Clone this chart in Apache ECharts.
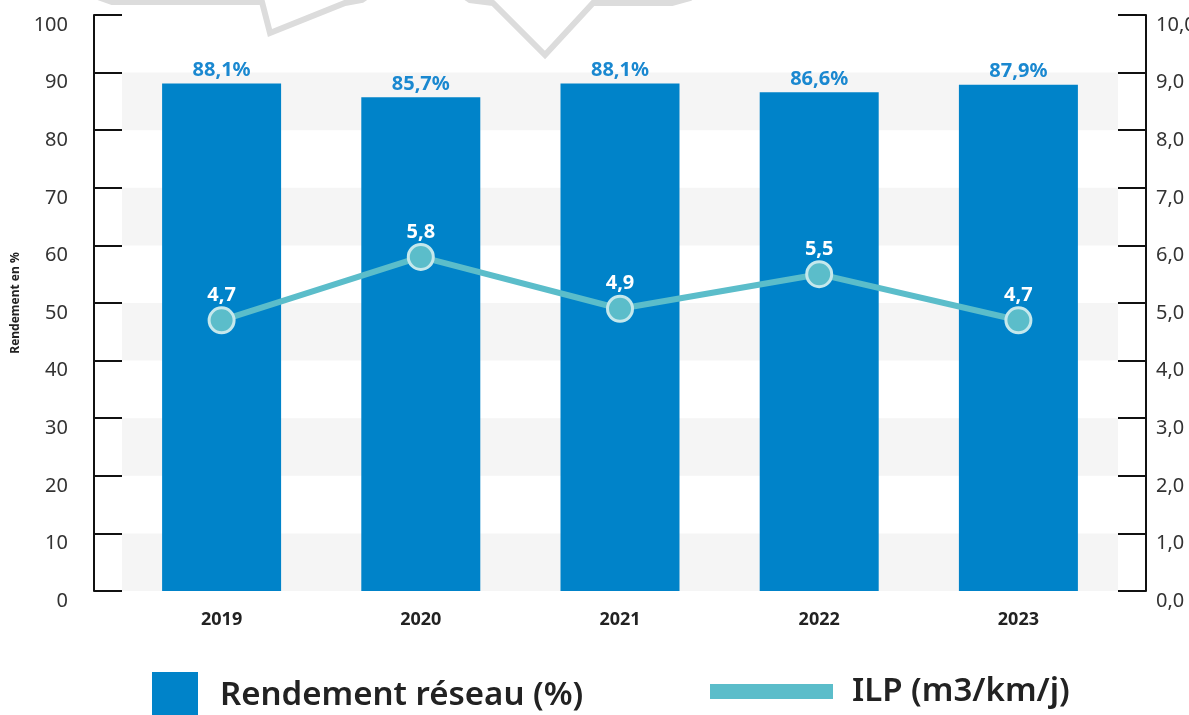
<!DOCTYPE html>
<html>
<head>
    <meta charset="utf-8">
    <title>Rendement réseau et ILP</title>
    <script src="https://cdn.jsdelivr.net/npm/echarts@6/dist/echarts.min.js"></script>
    <style>
        html, body { margin: 0; padding: 0; background: #fff; }
    </style>
</head>
<body>
    <div id="chart" style="width: 1189px;height:715px;"></div>
    <script type="text/javascript">
        // données
        var annees = ['2019', '2020', '2021', '2022', '2023'];
        var rendement = [88.1, 85.7, 88.1, 86.6, 87.9];
        var ilp = [4.7, 5.8, 4.9, 5.5, 4.7];
        var nomRendement = 'Rendement réseau (%)';
        var nomIlp = 'ILP (m3/km/j)';

        var virgule = function (v, d) { return v.toFixed(d).replace('.', ','); };
        var police = '"Noto Sans", "Open Sans", sans-serif';

        var option = {
            animation: false,
            textStyle: { fontFamily: police },
            grid: { left: 122, right: 71, top: 15, bottom: 124, outerBoundsMode: 'none', containLabel: false },
            // bulles décoratives en haut (morceau de l'infographie)
            graphic: [
                {
                    type: 'polyline', z: 100,
                    shape: { points: [[88, -14], [98, -3], [112, 2], [262, 2], [270, 33], [345, 3], [362, 0], [376, -10]] },
                    style: { stroke: '#dcdcdc', lineWidth: 6, fill: null }
                },
                {
                    type: 'polyline', z: 100,
                    shape: { points: [[455, -10], [470, 0], [493, 3], [545, 55], [593, 3], [672, 3], [690, -2], [702, -12]] },
                    style: { stroke: '#dcdcdc', lineWidth: 6, fill: null }
                }
            ],
            legend: [
                {
                    data: [nomRendement],
                    left: 152, top: 672, padding: 0,
                    icon: 'rect', itemWidth: 46, itemHeight: 48,
                    textStyle: { fontSize: 33, fontWeight: 600, color: '#222', fontFamily: police, padding: [0, 0, 0, 17] }
                },
                {
                    data: [nomIlp],
                    left: 710, top: 675, padding: 0,
                    icon: 'rect', itemWidth: 123, itemHeight: 15,
                    itemStyle: { borderWidth: 0 },
                    textStyle: { fontSize: 33, fontWeight: 600, color: '#222', fontFamily: police, padding: [0, 0, 0, 14] }
                }
            ],
            xAxis: {
                type: 'category',
                data: annees,
                axisLine: { show: false },
                axisTick: { show: false },
                axisLabel: { margin: 20, fontSize: 18, fontWeight: 'bold', color: '#222' }
            },
            yAxis: [
                {
                    type: 'value', min: 0, max: 100, interval: 10,
                    offset: 28,
                    name: 'Rendement en %', nameLocation: 'middle', nameRotate: 90, nameGap: 72,
                    nameTextStyle: { fontSize: 12, fontWeight: 'bold', color: '#222' },
                    axisLine: { show: true, lineStyle: { color: '#111', width: 2 } },
                    axisTick: { show: true, inside: true, length: 28, lineStyle: { color: '#111', width: 2 } },
                    axisLabel: { margin: 26, fontSize: 20, color: '#333', verticalAlign: 'top' },
                    splitLine: { show: false },
                    splitArea: { show: true, areaStyle: { color: ['#f5f5f5', 'rgba(255,255,255,0)'] } }
                },
                {
                    type: 'value', min: 0, max: 10, interval: 1,
                    offset: 28,
                    axisLine: { show: true, lineStyle: { color: '#111', width: 2 } },
                    axisTick: { show: true, inside: true, length: 28, lineStyle: { color: '#111', width: 2 } },
                    axisLabel: {
                        margin: 10, fontSize: 20, color: '#333', verticalAlign: 'top',
                        formatter: function (v) { return virgule(v, 1); }
                    },
                    splitLine: { show: false }
                }
            ],
            series: [
                {
                    name: nomRendement,
                    type: 'bar',
                    data: rendement,
                    barWidth: 119,
                    itemStyle: { color: '#0083c9' },
                    label: {
                        show: true, position: 'top', distance: 3,
                        fontSize: 20, fontWeight: 'bold', color: '#1a88d0',
                        formatter: function (p) { return virgule(p.value, 1) + '%'; }
                    }
                },
                {
                    name: nomIlp,
                    type: 'line',
                    yAxisIndex: 1,
                    data: ilp,
                    symbol: 'circle',
                    symbolSize: 25,
                    lineStyle: { color: '#5bbdca', width: 6 },
                    itemStyle: { color: '#5bbdca', borderColor: '#c5e8ec', borderWidth: 3 },
                    label: {
                        show: true, position: 'top', distance: 1,
                        fontSize: 20, fontWeight: 'bold', color: '#ffffff',
                        formatter: function (p) { return virgule(p.value, 1); }
                    },
                    z: 5
                }
            ]
        };

        var chart = echarts.init(document.getElementById('chart'));
        chart.setOption(option);
    </script>
</body>
</html>
